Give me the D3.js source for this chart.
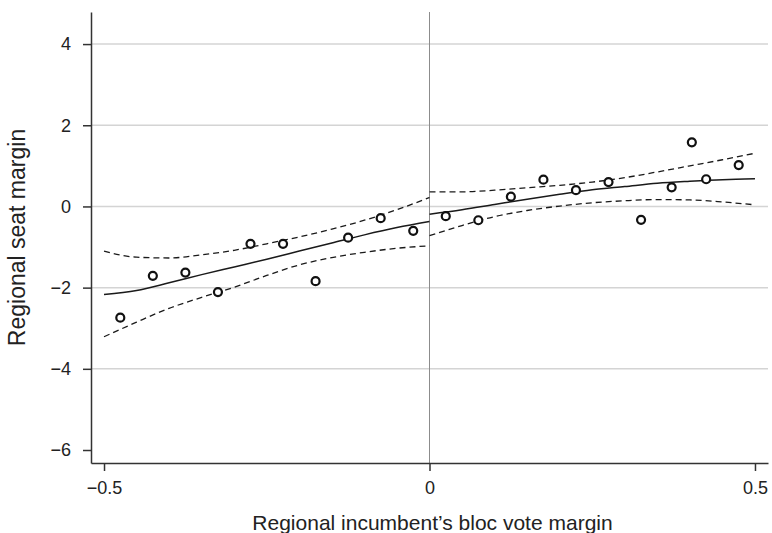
<!DOCTYPE html>
<html>
<head>
<meta charset="utf-8">
<script src="https://cdn.jsdelivr.net/npm/d3@7"></script>
<style>
  html, body { margin: 0; padding: 0; background: #fff; }
  svg { display: block; font-family: "Liberation Sans", Arial, Helvetica, sans-serif; }
</style>
</head>
<body>
<svg id="chart" width="772" height="533"></svg>
<script>
// Binned means: regional seat margin by incumbent bloc vote margin
const leftBinX = [-0.475, -0.425, -0.375, -0.325, -0.275, -0.225, -0.175, -0.125, -0.075, -0.025];
const leftBinY = [-2.74, -1.71, -1.63, -2.11, -0.92, -0.92, -1.84, -0.77, -0.29, -0.60];
const rightBinX = [0.025, 0.075, 0.125, 0.175, 0.225, 0.275, 0.325, 0.372, 0.403, 0.425, 0.475];
const rightBinY = [-0.24, -0.34, 0.24, 0.66, 0.40, 0.60, -0.33, 0.47, 1.58, 0.67, 1.02];

// Local fit and 95% bands, left of the cutoff
const leftFitX = [-0.5, -0.45, -0.4, -0.35, -0.3, -0.25, -0.2, -0.15, -0.1, -0.05, 0];
const leftFit = [-2.17, -2.07, -1.88, -1.68, -1.49, -1.30, -1.10, -0.90, -0.70, -0.52, -0.37];
const leftUpper = [-1.10, -1.25, -1.27, -1.19, -1.08, -0.92, -0.75, -0.56, -0.34, -0.08, 0.22];
const leftLower = [-3.21, -2.85, -2.51, -2.24, -1.99, -1.70, -1.44, -1.26, -1.13, -1.03, -0.97];

// Local fit and 95% bands, right of the cutoff
const rightFitX = [0, 0.05, 0.1, 0.15, 0.2, 0.25, 0.3, 0.35, 0.4, 0.45, 0.5];
const rightFit = [-0.19, -0.08, 0.05, 0.18, 0.30, 0.41, 0.49, 0.57, 0.62, 0.66, 0.68];
const rightUpper = [0.36, 0.36, 0.40, 0.46, 0.52, 0.60, 0.71, 0.85, 1.00, 1.15, 1.31];
const rightLower = [-0.72, -0.47, -0.25, -0.10, 0.01, 0.09, 0.14, 0.17, 0.16, 0.11, 0.04];

const xTicks = [-0.5, 0, 0.5];
const yTicks = [-6, -4, -2, 0, 2, 4];
const yGrid = [-4, -2, 0, 2, 4];
const xDomain = [-0.52, 0.52];
const yDomain = [-6.32, 4.79];

const xLabel = "Regional incumbent\u2019s bloc vote margin";
const yLabel = "Regional seat margin";

const plot = { left: 91, right: 768, top: 12, bottom: 463 };
const svg = d3.select("#chart");

const x = d3.scaleLinear().domain(xDomain).range([plot.left, plot.right]);
const y = d3.scaleLinear().domain(yDomain).range([plot.bottom, plot.top]);
const fmt = d3.format("");

// horizontal grid
svg.append("g").selectAll("line").data(yGrid).join("line")
  .attr("x1", plot.left).attr("x2", plot.right)
  .attr("y1", d => y(d)).attr("y2", d => y(d))
  .attr("stroke", "#d4d4d4").attr("stroke-width", 1.5);

// cutoff line
svg.append("line")
  .attr("x1", x(0)).attr("x2", x(0))
  .attr("y1", plot.top).attr("y2", plot.bottom)
  .attr("stroke", "#8c8c8c").attr("stroke-width", 1);

// axes
const yAxis = svg.append("g")
  .attr("transform", `translate(${plot.left},0)`)
  .call(d3.axisLeft(y).tickValues(yTicks).tickFormat(fmt).tickSize(8).tickSizeOuter(0).tickPadding(12));
const xAxis = svg.append("g")
  .attr("transform", `translate(0,${plot.bottom})`)
  .call(d3.axisBottom(x).tickValues(xTicks).tickFormat(fmt).tickSize(8).tickSizeOuter(0).tickPadding(10));

[yAxis, xAxis].forEach(g => {
  g.attr("font-family", null).attr("font-size", null);
  g.select(".domain").attr("stroke", "#333").attr("stroke-width", 1.5);
  g.selectAll(".tick line").attr("stroke", "#333").attr("stroke-width", 1.5);
  g.selectAll(".tick text").attr("fill", "#222").style("font-size", "18px");
});

// fitted curves
const curve = d3.line().x(d => x(d[0])).y(d => y(d[1])).curve(d3.curveMonotoneX);
const series = [
  { xs: leftFitX, ys: leftFit, dash: null, w: 1.5 },
  { xs: leftFitX, ys: leftUpper, dash: "6,4", w: 1.3 },
  { xs: leftFitX, ys: leftLower, dash: "6,4", w: 1.3 },
  { xs: rightFitX, ys: rightFit, dash: null, w: 1.5 },
  { xs: rightFitX, ys: rightUpper, dash: "6,4", w: 1.3 },
  { xs: rightFitX, ys: rightLower, dash: "6,4", w: 1.3 }
];
series.forEach(s => {
  svg.append("path")
    .datum(s.xs.map((v, i) => [v, s.ys[i]]))
    .attr("d", curve)
    .attr("fill", "none")
    .attr("stroke", "#1a1a1a")
    .attr("stroke-width", s.w)
    .attr("stroke-dasharray", s.dash);
});

// binned means
const pts = leftBinX.map((v, i) => [v, leftBinY[i]])
  .concat(rightBinX.map((v, i) => [v, rightBinY[i]]));
svg.append("g").selectAll("circle").data(pts).join("circle")
  .attr("cx", d => x(d[0])).attr("cy", d => y(d[1]))
  .attr("r", 4)
  .attr("fill", "#fff").attr("stroke", "#111").attr("stroke-width", 2.2);

// axis titles
svg.append("text")
  .attr("x", (plot.left + plot.right) / 2 + 3).attr("y", 530)
  .attr("text-anchor", "middle").attr("fill", "#222")
  .style("font-size", "21px")
  .text(xLabel);
svg.append("text")
  .attr("transform", `translate(25,${(plot.top + plot.bottom) / 2}) rotate(-90)`)
  .attr("text-anchor", "middle").attr("fill", "#222")
  .style("font-size", "23px")
  .text(yLabel);
</script>
</body>
</html>
